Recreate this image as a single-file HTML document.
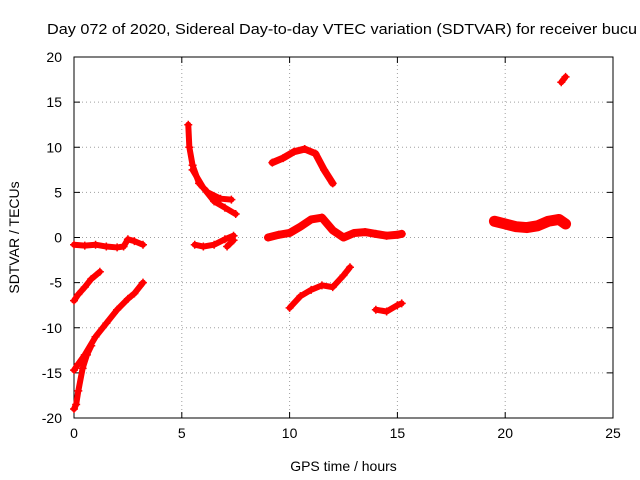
<!DOCTYPE html>
<html><head><meta charset="utf-8"><style>
body{margin:0;background:#fff;}
svg{display:block;font-family:"Liberation Sans",sans-serif;}
</style></head><body>
<svg id="chart" width="640" height="480" viewBox="0 0 640 480"></svg>
<script>
const xTicks=[0,5,10,15,20,25];
const yTicks=[-20,-15,-10,-5,0,5,10,15,20];
const seriesFlat=[[0,-0.8],[0.5,-0.9],[1,-0.8],[1.5,-1],[2,-1.1],[2.3,-1],[2.5,-0.2],[2.8,-0.4],[3.2,-0.8]];
const seriesA=[[0,-7],[0.2,-6.3],[0.5,-5.5],[0.8,-4.6],[1.2,-3.8]];
const seriesB=[[0,-14.7],[0.2,-14],[0.5,-13],[1,-11],[1.5,-9.5],[2,-8],[2.5,-6.8],[2.8,-6.2],[3.2,-5]];
const seriesC=[[0,-19],[0.1,-18.5],[0.2,-17],[0.4,-14.5],[0.6,-13],[0.8,-12]];
const seriesD=[[5.3,12.5],[5.35,10],[5.5,8],[5.8,6],[6.2,5],[6.8,4.3],[7.3,4.2]];
const seriesE=[[5.5,7.5],[6,5.5],[6.5,4],[7,3.3],[7.5,2.6]];
const seriesF=[[5.6,-0.8],[6,-1],[6.5,-0.8],[7,-0.2],[7.4,0.2]];
const seriesG=[[7.1,-1],[7.4,-0.3]];
const seriesH=[[9.2,8.3],[9.7,8.8],[10.2,9.5],[10.7,9.8],[11.2,9.3],[11.6,7.5],[12,6]];
const seriesI=[[9,0],[9.5,0.3],[10,0.5],[10.5,1.2],[11,2],[11.5,2.2],[12,0.8],[12.5,0],[13,0.5],[13.5,0.6],[14,0.4],[14.5,0.2],[15,0.3],[15.2,0.4]];
const seriesJ=[[10,-7.8],[10.5,-6.5],[11,-5.8],[11.5,-5.3],[12,-5.5],[12.5,-4.2],[12.8,-3.3]];
const seriesK=[[14,-8],[14.5,-8.2],[15,-7.5],[15.2,-7.3]];
const seriesL=[[19.5,1.8],[20,1.5],[20.5,1.2],[21,1.1],[21.5,1.3],[22,1.8],[22.5,2],[22.8,1.5]];
const seriesM=[[22.6,17.2],[22.8,17.8]];
const allSeries=[seriesFlat,seriesA,seriesB,seriesC,seriesD,seriesE,seriesF,seriesG,seriesH,seriesI,seriesJ,seriesK,seriesL,seriesM];
const bandWidth=[6,6,6,6,6,6,6,6,7,8,6,6,11,6];

const L=74,R=613,T=57,B=418;
const xs=v=>L+(v-0)/(25-0)*(R-L);
const ys=v=>B-(v+20)/40*(B-T);
const svg=document.getElementById('chart');
const NS='http://www.w3.org/2000/svg';
function mk(tag,attrs,parent){const e=document.createElementNS(NS,tag);for(const k in attrs)e.setAttribute(k,attrs[k]);(parent||svg).appendChild(e);return e;}

const title=mk('text',{x:47,y:34,'font-size':15,fill:'#000',textLength:590,lengthAdjust:'spacingAndGlyphs'});


title.textContent='Day 072 of 2020, Sidereal Day-to-day VTEC variation (SDTVAR) for receiver bucu';

xTicks.forEach(t=>{
  const x=xs(t);
  if(t>0&&t<25){const g=mk('line',{x1:x,y1:T,x2:x,y2:B,stroke:'#a0a0a0','stroke-dasharray':'1,3'});
  
  }
  mk('line',{x1:x,y1:B,x2:x,y2:B-6,stroke:'#000'});
  mk('line',{x1:x,y1:T,x2:x,y2:T+6,stroke:'#000'});
  const lb=mk('text',{x:x,y:B+20,'font-size':14,'text-anchor':'middle'});
  
  
  lb.textContent=t;
});
yTicks.forEach(t=>{
  const y=ys(t);
  if(t>-20&&t<20){const g=mk('line',{x1:L,y1:y,x2:R,y2:y,stroke:'#a0a0a0','stroke-dasharray':'1,3'});
  
  }
  mk('line',{x1:L,y1:y,x2:L+6,y2:y,stroke:'#000'});
  mk('line',{x1:R,y1:y,x2:R-6,y2:y,stroke:'#000'});
  const lb=mk('text',{x:L-12,y:y+5,'font-size':14,'text-anchor':'end'});
  
  
  lb.textContent=t;
});
const frame=mk('rect',{x:L,y:T,width:R-L,height:B-T,fill:'none',stroke:'#000'});



const xt=mk('text',{x:(L+R)/2,y:471,'font-size':14,'text-anchor':'middle'});


xt.textContent='GPS time / hours';
const yt=mk('text',{x:19,y:(T+B)/2,'font-size':14,'text-anchor':'middle',transform:'rotate(-90 19 '+((T+B)/2)+')'});


yt.textContent='SDTVAR / TECUs';

allSeries.forEach((s,i)=>{
  const g=mk('g',{});
  
  
  mk('polyline',{points:s.map(p=>xs(p[0])+','+ys(p[1])).join(' '),fill:'none',stroke:'#f00','stroke-width':bandWidth[i],'stroke-linejoin':'round','stroke-linecap':'round'},g);
  s.forEach(p=>{
    const x=xs(p[0]),y=ys(p[1]);
    const m=mk('path',{d:`M${x-4},${y}H${x+4}M${x},${y-4}V${y+4}`,stroke:'#f00','stroke-width':1.5},g);
    
    
  });
});
</script>
</body></html>
